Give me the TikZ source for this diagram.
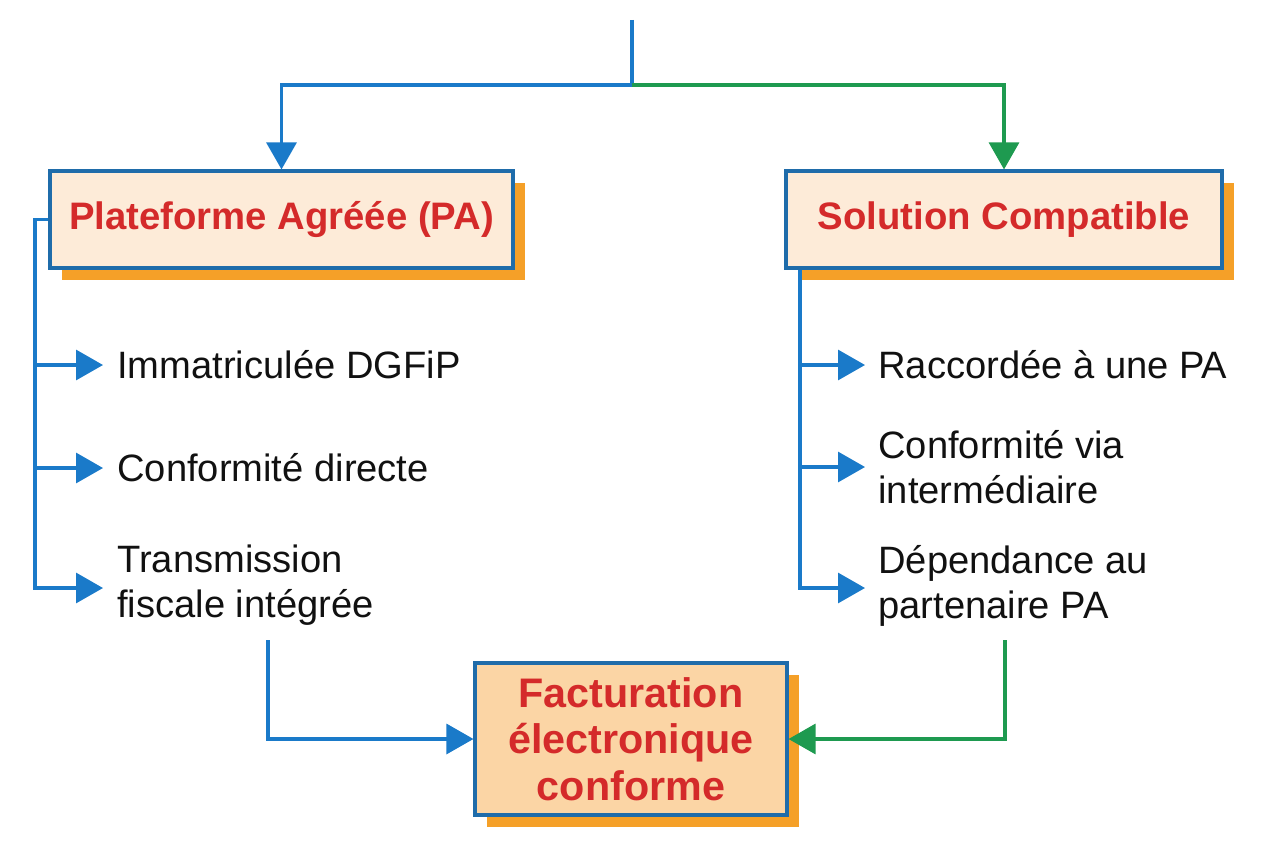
\documentclass[tikz,border=0pt]{standalone}
\usepackage{fontspec}
\setmainfont{Liberation Sans}
\usetikzlibrary{arrows.meta,positioning,calc,shadows}
\definecolor{flBlue}{HTML}{1A7AC9}
\definecolor{flFrame}{HTML}{1F6CAA}
\definecolor{flGreen}{HTML}{1E9A50}
\definecolor{flOrange}{HTML}{F5A028}
\definecolor{flRed}{HTML}{D42A2A}
\definecolor{flPeach}{HTML}{FDEBD8}
\definecolor{flApricot}{HTML}{FBD5A5}
\definecolor{flInk}{HTML}{111111}
\tikzset{
  hdr/.style={draw=flFrame, line width=1.8pt, fill=flPeach, inner sep=0pt, align=center,
    text=flRed, font=\fontsize{21.8}{26}\selectfont\bfseries,
    general shadow={fill=flOrange, shadow xshift=0.24cm, shadow yshift=-0.24cm}},
  hdrF/.style={hdr, fill=flApricot, font=\fontsize{23.5}{26.5}\selectfont\bfseries},
  itm/.style={inner sep=0pt, anchor=west, align=left, text=flInk, font=\fontsize{21.7}{25.6}\selectfont},
  arr/.style={-{Triangle[length=0.54cm, width=0.6cm]}, line width=1.8pt, line join=miter},
}
\begin{document}
\begin{tikzpicture}[x=0.02cm, y=-0.02cm]
  \useasboundingbox (0,0) rectangle (1264,848);
  % boxes
  \node[hdr, minimum width=9.26cm, minimum height=1.94cm] (pa) at (281.5,219.5) {Plateforme Agréée (PA)};
  \node[hdr, minimum width=8.72cm, minimum height=1.94cm] (sc) at (1004,219.5) {Solution Compatible};
  \node[hdrF, minimum width=6.24cm, minimum height=3.04cm] (fc) at (631,739) {Facturation\\électronique\\conforme};
  % items
  \node[itm] (pa1) at (117,365) {Immatriculée DGFiP};
  \node[itm] (pa2) at (117,468) {Conformité directe};
  \node[itm] (pa3) at (117,585) {Transmission\\fiscale intégrée};
  \node[itm] (sc1) at (878,365) {Raccordée à une PA};
  \node[itm] (sc2) at (878,467) {Conformité via\\intermédiaire};
  \node[itm] (sc3) at (878,586) {Dépendance au\\partenaire PA};
  % split at the top
  \coordinate (top) at (632,20);
  \coordinate (split) at (632,85);
  \draw[flBlue, line width=1.8pt] (top) -- (split);
  \draw[arr, flBlue] (split) -| (pa.north);
  \draw[arr, flGreen] (split) -| (sc.north);
  % left trunk
  \coordinate (lt) at (35,588);
  \draw[arr, flBlue] (pa.west) -| (lt) -- ([xshift=-0.28cm]lt -| pa3.west);
  \foreach \n in {pa1,pa2} {
    \draw[arr, flBlue] (lt |- \n.west) -- ([xshift=-0.28cm]\n.west);
  }
  % right trunk
  \coordinate (rt) at (800,588);
  \draw[arr, flBlue] (rt |- sc.south) -- (rt) -- ([xshift=-0.26cm]rt -| sc3.west);
  \foreach \n in {sc1,sc2} {
    \draw[arr, flBlue] (rt |- \n.west) -- ([xshift=-0.26cm]\n.west);
  }
  % into the result
  \coordinate (lin) at (268,640);
  \coordinate (rin) at (1005,640);
  \draw[arr, flBlue] (lin) |- (fc.west);
  \draw[arr, flGreen] (rin) |- (fc.east);
\end{tikzpicture}
\end{document}
